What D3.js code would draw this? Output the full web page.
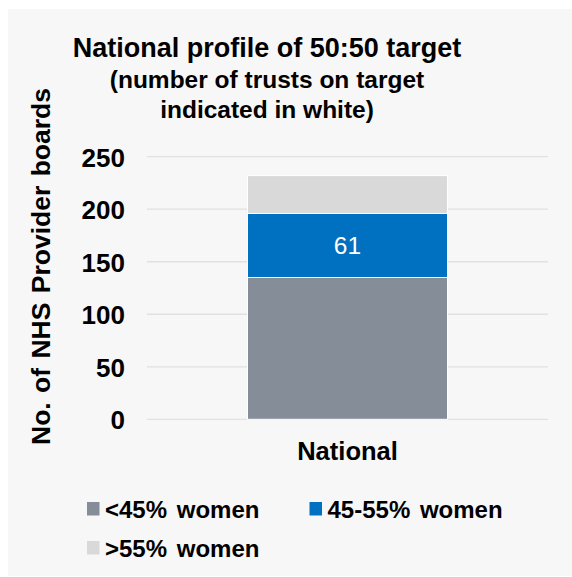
<!DOCTYPE html>
<html><head><meta charset="utf-8">
<script src="https://cdn.jsdelivr.net/npm/d3@7"></script>
<style>body{margin:0;background:#fff}svg{display:block}text{font-family:"Liberation Sans",Arial,sans-serif}</style>
</head><body>
<script>
const categories = ["National"];
const seriesNames = ["<45% women", "45-55% women", ">55% women"];
const seriesValues = [[135], [61], [36]];
const labelledSeries = [false, true, false];
const yTicks = [0, 50, 100, 150, 200, 250];
const colors = ["#848d98", "#0070c0", "#d9d9d9"];

const W = 572, H = 577;
const svg = d3.select("body").append("svg").attr("width", W).attr("height", H);
svg.append("rect").attr("x", 8).attr("y", 9).attr("width", W - 8).attr("height", H - 10).attr("fill", "#f7f7f7");

const plot = {left: 147, right: 548, top: 156.7, bottom: 419.3};
const y = d3.scaleLinear().domain([0, 250]).range([plot.bottom, plot.top]);
const x = d3.scaleBand().domain(categories).range([plot.left, plot.right]).paddingInner(0).paddingOuter(0.25);

// gridlines
svg.append("g").selectAll("line").data(yTicks).join("line")
  .attr("x1", plot.left).attr("x2", plot.right)
  .attr("y1", d => y(d)).attr("y2", d => y(d))
  .attr("stroke", "#e1e1e1").attr("stroke-width", 1.3);

// y axis labels
const yAxis = d3.axisLeft(y).tickValues(yTicks).tickSize(0).tickPadding(0);
const ga = svg.append("g").attr("transform", `translate(125,0)`).call(yAxis);
ga.select(".domain").remove();
ga.selectAll("text").attr("font-size", 26).attr("font-weight", "bold").attr("fill", "#000")
  .attr("font-family", "Liberation Sans, Arial, sans-serif").attr("dy", "0.36em");

// stacked bars
const rows = categories.map((c, i) => {
  const o = {cat: c};
  seriesNames.forEach((s, j) => o[s] = seriesValues[j][i]);
  return o;
});
const stack = d3.stack().keys(seriesNames)(rows);
const bw = 200;
stack.forEach((layer, j) => {
  svg.append("g").selectAll("rect").data(layer).join("rect")
    .attr("x", d => x(d.data.cat) + x.bandwidth() / 2 - bw / 2)
    .attr("width", bw)
    .attr("y", d => y(d[1]))
    .attr("height", d => y(d[0]) - y(d[1]))
    .attr("fill", colors[j])
    .attr("stroke", "#ffffff").attr("stroke-width", 1);
  if (labelledSeries[j]) {
    svg.append("g").selectAll("text").data(layer).join("text")
      .attr("x", d => x(d.data.cat) + x.bandwidth() / 2)
      .attr("y", d => (y(d[0]) + y(d[1])) / 2 + 9)
      .attr("text-anchor", "middle").attr("font-size", 24.5).attr("fill", "#fff")
      .text(d => d[1] - d[0]);
  }
});

// x labels
svg.append("g").selectAll("text").data(categories).join("text")
  .attr("x", d => x(d) + x.bandwidth() / 2).attr("y", 460)
  .attr("text-anchor", "middle").attr("font-size", 25.5).attr("font-weight", "bold").text(d => d);

// title
const titleLines = [["National profile of 50:50 target", 27, 57], ["(number of trusts on target", 24.5, 88], ["indicated in white)", 24.5, 118]];
svg.append("g").selectAll("text").data(titleLines).join("text")
  .attr("x", 267).attr("y", d => d[2]).attr("text-anchor", "middle")
  .attr("font-size", d => d[1]).attr("font-weight", "bold").text(d => d[0]);

// y title
svg.append("text").attr("transform", "translate(50,266.5) rotate(-90)")
  .attr("text-anchor", "middle").attr("font-size", 26.5).attr("font-weight", "bold")
  .attr("word-spacing", 2).text("No. of NHS Provider boards");

// legend
const legendPos = [[87, 518], [309.5, 518], [87, 557]];
const lg = svg.append("g").selectAll("g").data(seriesNames).join("g")
  .attr("transform", (d, i) => `translate(${legendPos[i][0]},${legendPos[i][1]})`);
lg.append("rect").attr("x", 0).attr("y", -16).attr("width", 12.5).attr("height", 13.5).attr("fill", (d, i) => colors[i]);
lg.append("text").attr("x", 18).attr("y", 0).attr("font-size", 24).attr("font-weight", "bold")
  .attr("word-spacing", 3).text(d => d);
</script>
</body></html>
